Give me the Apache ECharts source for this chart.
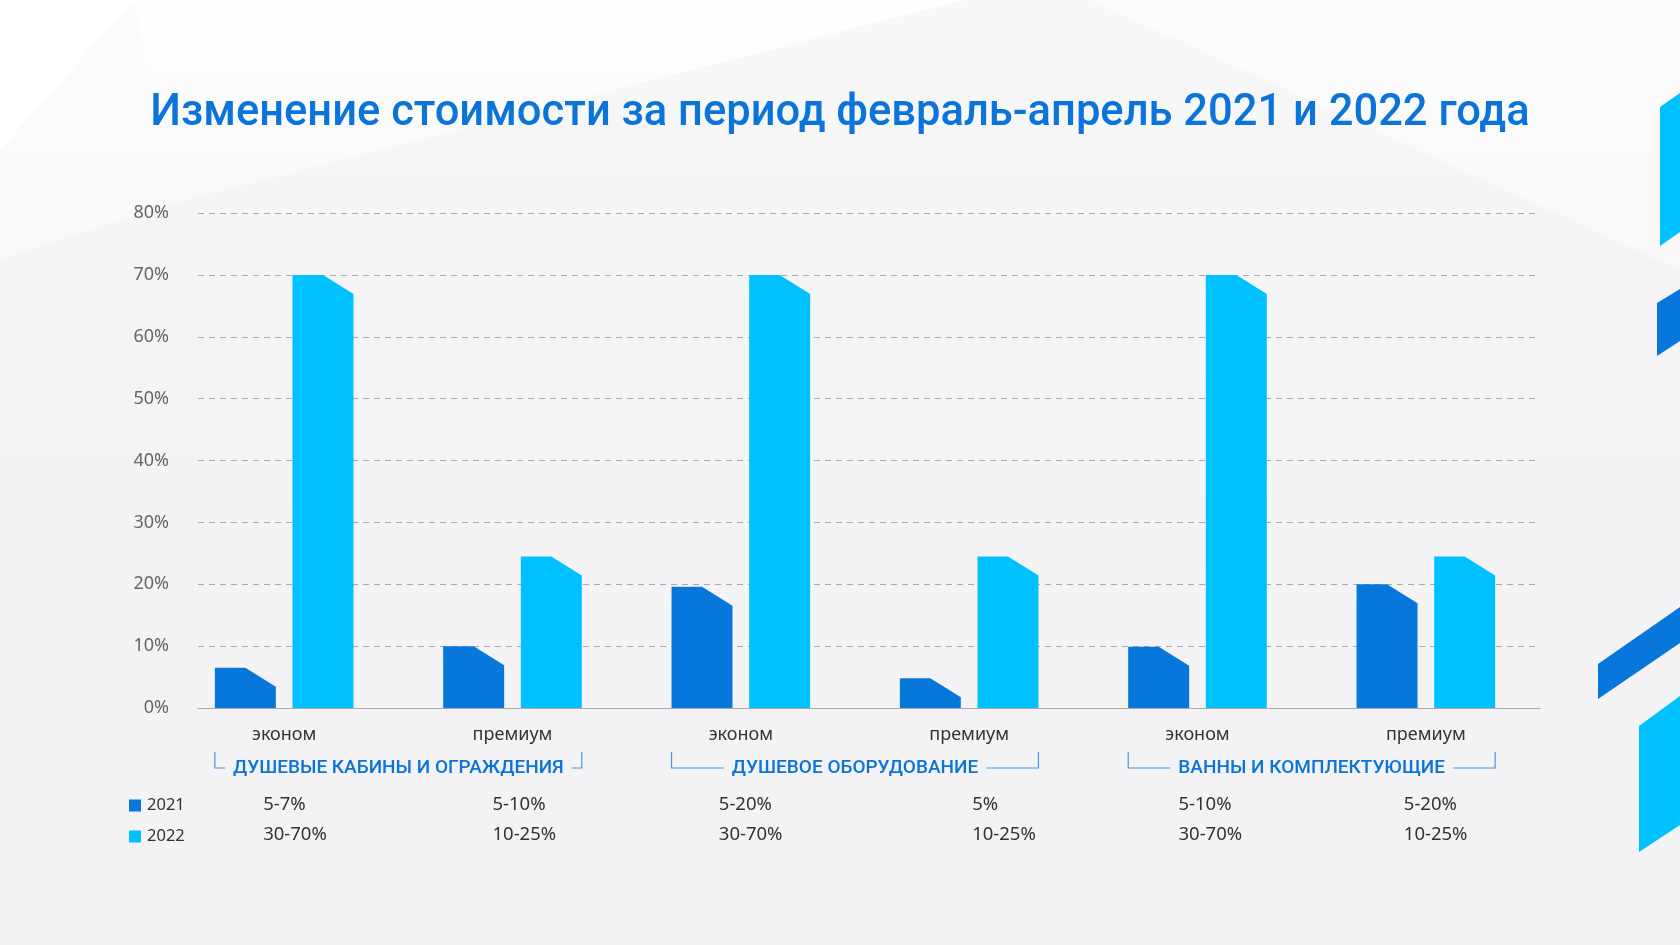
<!DOCTYPE html>
<html>
<head>
<meta charset="utf-8">
<script src="https://cdn.jsdelivr.net/npm/echarts@6/dist/echarts.min.js"></script>
<style>
html,body{margin:0;padding:0;background:#f3f3f5;}
#c{width:1680px;height:945px;}
</style>
</head>
<body>
<div id="c"></div>
<script>
// ---- data ----
var titleText = 'Изменение стоимости за период февраль-апрель 2021 и 2022 года';
var categories = ['эконом', 'премиум', 'эконом', 'премиум', 'эконом', 'премиум'];
var groups = ['ДУШЕВЫЕ КАБИНЫ И ОГРАЖДЕНИЯ', 'ДУШЕВОЕ ОБОРУДОВАНИЕ', 'ВАННЫ И КОМПЛЕКТУЮЩИЕ'];
var seriesNames = ['2021', '2022'];
var values2021 = [6.5, 10, 19.6, 4.8, 9.9, 20];
var values2022 = [70, 24.5, 70, 24.5, 70, 24.5];
var ranges2021 = ['5-7%', '5-10%', '5-20%', '5%', '5-10%', '5-20%'];
var ranges2022 = ['30-70%', '10-25%', '30-70%', '10-25%', '30-70%', '10-25%'];
var yTicks = [0, 10, 20, 30, 40, 50, 60, 70, 80];

// ---- layout / style ----
var C2021 = '#0777db', C2022 = '#00c1ff';
var FONT = 'Noto Sans';
var TFONT = 'Roboto';
var rangeDx = [-21, -20, -22, 3, -19, -22];
var barFrac = 0.267, offFrac = 0.17, dropPx = 19;

var chart = echarts.init(document.getElementById('c'));

function makeBarSeries(name, vals, color, sign) {
  return {
    name: name,
    type: 'custom',
    xAxisIndex: 1, yAxisIndex: 1,
    itemStyle: {color: color},
    data: vals.map(function (v, i) { return [i, v]; }),
    encode: {x: 0, y: 1},
    renderItem: function (params, api) {
      var ci = api.value(0), v = api.value(1);
      var band = api.size([1, 0])[0];
      var base = api.coord([ci, 0]);
      var top = api.coord([ci, v]);
      var cx = base[0] + sign * offFrac * band;
      var w = band * barFrac;
      var x0 = cx - w / 2, x1 = cx + w / 2;
      var ty = top[1], ry = Math.min(ty + dropPx, base[1]);
      return {
        type: 'polygon',
        shape: {points: [[x0, base[1]], [x0, ty], [cx, ty], [x1, ry], [x1, base[1]]]},
        style: {fill: color}
      };
    }
  };
}

var bgGraphics = [
  {type: 'rect', shape: {x: 0, y: 0, width: 1680, height: 945}, z: -10,
   style: {fill: new echarts.graphic.LinearGradient(0, 0, 0, 1, [
     {offset: 0, color: '#f8f8f9'}, {offset: 0.35, color: '#f4f4f6'}, {offset: 1, color: '#f3f3f5'}])}},
  {type: 'polygon', z: -9, shape: {points: [[0, 0], [134, 0], [0, 150]]}, style: {fill: 'rgba(255,255,255,0.95)'}},
  {type: 'polygon', z: -9, shape: {points: [[134, 0], [964, 0], [171, 204]]},
   style: {fill: new echarts.graphic.LinearGradient(0, 0, 0, 1, [
     {offset: 0, color: 'rgba(255,255,255,0.9)'}, {offset: 1, color: 'rgba(255,255,255,0.3)'}])}},
  {type: 'polygon', z: -9, shape: {points: [[0, 150], [134, 0], [171, 204], [0, 260]]},
   style: {fill: 'rgba(255,255,255,0.45)'}},
  {type: 'polygon', z: -9, shape: {points: [[1090, 0], [1680, 0], [1680, 270]]},
   style: {fill: 'rgba(255,255,255,0.45)'}},
  // right decorations
  {type: 'polygon', z: -5, shape: {points: [[1660, 107], [1680, 93], [1680, 232], [1660, 246]]}, style: {fill: C2022}},
  {type: 'polygon', z: -5, shape: {points: [[1657, 303], [1680, 289], [1680, 341], [1657, 356]]}, style: {fill: C2021}},
  {type: 'polygon', z: -5, shape: {points: [[1598, 664], [1680, 607], [1680, 643], [1598, 699]]}, style: {fill: C2021}},
  {type: 'polygon', z: -5, shape: {points: [[1639, 726], [1680, 696], [1680, 825], [1639, 852]]}, style: {fill: C2022}}
];

var option = {
  backgroundColor: '#f3f3f5',
  animation: false,
  title: {
    text: titleText, left: 'center', top: 87,
    textStyle: {fontFamily: TFONT, fontSize: 43.5, fontWeight: 500, color: '#0a74da'}
  },
  legend: {
    orient: 'vertical', left: 124, top: 792,
    itemWidth: 12, itemHeight: 12, itemGap: 14,
    icon: 'rect',
    data: seriesNames,
    textStyle: {fontFamily: FONT, fontSize: 16.5, color: '#333', padding: [0, 0, 0, 1]}
  },
  grid: [
    {left: 198, right: 140, top: 213, bottom: 237},
    {left: 170, right: 140, top: 213, bottom: 237}
  ],
  xAxis: [
    {type: 'value', gridIndex: 0, min: 0, max: 1, show: true,
     axisLine: {show: true, lineStyle: {color: '#a9a9a9', width: 1.2}}, axisTick: {show: false},
     axisLabel: {show: false}, splitLine: {show: false}},
    {type: 'category', gridIndex: 1, data: categories,
     axisLine: {show: false}, axisTick: {show: false},
     axisLabel: {margin: 18, fontFamily: FONT, fontSize: 18, color: '#333', interval: 0,
       formatter: function (v, i) { return categories[i]; }}}
  ],
  yAxis: [
    {type: 'value', gridIndex: 0, min: yTicks[0], max: yTicks[yTicks.length - 1], interval: 10,
     axisLine: {show: false}, axisTick: {show: false},
     axisLabel: {margin: 29, fontFamily: FONT, fontSize: 18, color: '#666', formatter: '{value}%'},
     splitLine: {show: true, lineStyle: {color: '#a9a9a9', type: [6, 5], width: 1}}},
    {type: 'value', gridIndex: 1, min: yTicks[0], max: yTicks[yTicks.length - 1], interval: 10, show: false}
  ],
  series: [
    makeBarSeries(seriesNames[0], values2021, C2021, -1),
    makeBarSeries(seriesNames[1], values2022, C2022, 1)
  ],
  graphic: bgGraphics
};
chart.setOption(option);

// ---- texts positioned via axis scales ----
var extra = [];
var band = Math.abs(chart.convertToPixel({xAxisIndex: 1}, 1) - chart.convertToPixel({xAxisIndex: 1}, 0));
var yLegend1 = 805, yLegend2 = 834.5;
categories.forEach(function (c, i) {
  var cx = chart.convertToPixel({xAxisIndex: 1}, i);
  extra.push({type: 'text', x: cx + rangeDx[i], y: yLegend1,
    style: {text: ranges2021[i], fill: '#333', font: '18.5px "' + FONT + '"', textVerticalAlign: 'middle', textAlign: 'left'}});
  extra.push({type: 'text', x: cx + rangeDx[i], y: yLegend2,
    style: {text: ranges2022[i], fill: '#333', font: '18.5px "' + FONT + '"', textVerticalAlign: 'middle', textAlign: 'left'}});
});
var half = (offFrac + barFrac / 2) * band;
groups.forEach(function (g, k) {
  var l = chart.convertToPixel({xAxisIndex: 1}, 2 * k) - half;
  var r = chart.convertToPixel({xAxisIndex: 1}, 2 * k + 1) + half;
  var yl = 768, yt = 752;
  extra.push({type: 'polyline', z: 1, shape: {points: [[l, yt], [l, yl], [r, yl], [r, yt]]},
    style: {stroke: '#4f93e0', lineWidth: 1.2, fill: null}});
  extra.push({type: 'text', z: 2, x: (l + r) / 2, y: yl,
    style: {text: g, fill: '#0a74da', font: '500 19px "' + TFONT + '"', textAlign: 'center', textVerticalAlign: 'middle',
      backgroundColor: '#f3f3f5', padding: [2, 8, 2, 8]}});
});
chart.setOption({graphic: bgGraphics.concat(extra)});
</script>
</body>
</html>
